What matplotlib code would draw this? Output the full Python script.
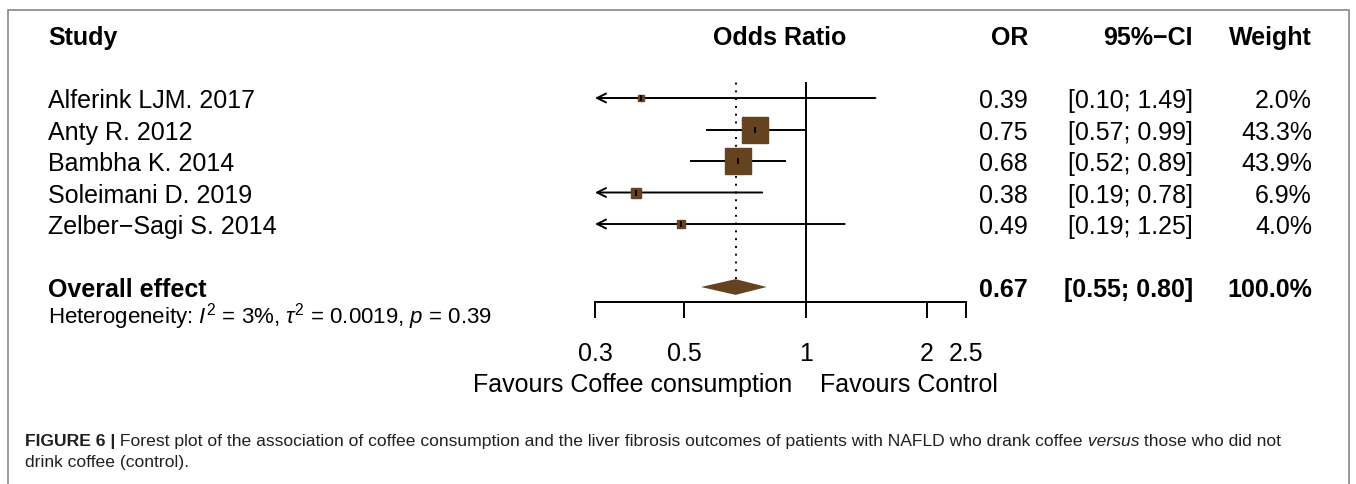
import numpy as np
import matplotlib
matplotlib.use("Agg")
import matplotlib.pyplot as plt
import matplotlib.transforms as mtransforms
from matplotlib.patches import Rectangle
from matplotlib.ticker import NullLocator

plt.rcParams['font.family'] = ['Liberation Sans', 'DejaVu Sans']
plt.rcParams['mathtext.fontset'] = 'custom'
plt.rcParams['mathtext.rm'] = 'Liberation Sans'
plt.rcParams['mathtext.it'] = 'Liberation Sans:italic'
plt.rcParams['mathtext.bf'] = 'Liberation Sans:bold'

# donnees du forest plot
studies = ["Alferink LJM. 2017", "Anty R. 2012", "Bambha K. 2014",
           "Soleimani D. 2019", "Zelber\u2212Sagi S. 2014"]
odds_ratio = [0.39, 0.75, 0.68, 0.38, 0.49]
ci_low = [0.10, 0.57, 0.52, 0.19, 0.19]
ci_high = [1.49, 0.99, 0.89, 0.78, 1.25]
weights = [2.0, 43.3, 43.9, 6.9, 4.0]

overall_or = 0.67
overall_low = 0.55
overall_high = 0.80
overall_weight = 100.0

ticks = [0.3, 0.5, 1, 2, 2.5]
tick_labels = ["0.3", "0.5", "1", "2", "2.5"]
headers = ["Study", "Odds Ratio", "OR", "95%\u2212CI", "Weight"]

W, H = 1356, 485
fig = plt.figure(figsize=(W / 100, H / 100), dpi=100)

brown = '#654321'
lw = 1.4
fs = 18

# axe principal (echelle log)
ax = fig.add_axes([595 / W, 1 - 303 / H, 371 / W, 220 / H])
ax.set_xscale('log')
ax.set_xlim(ticks[0], ticks[-1])
ax.set_ylim(-6.476, 0.508)
xmin = ax.get_xlim()[0]

for i in range(len(studies)):
    y = -i
    if ci_low[i] < xmin:
        ax.annotate('', xy=(xmin, y), xytext=(ci_high[i], y),
                    arrowprops=dict(arrowstyle='->', lw=lw, color='black',
                                    shrinkA=0, shrinkB=0, mutation_scale=16))
    else:
        ax.plot([ci_low[i], ci_high[i]], [y, y], color='black', lw=lw)
    ax.plot(odds_ratio[i], y, marker='s', ms=2.84 * np.sqrt(weights[i]),
            color=brown, mec=brown, mew=1, zorder=3)
    ax.plot(odds_ratio[i], y, marker='|', ms=5, color='black', mew=1.3, zorder=4)

# effet global
y_all = -6
h = 0.25
ax.fill([overall_low, overall_or, overall_high, overall_or],
        [y_all, y_all + h, y_all, y_all - h], color=brown, lw=0)
ax.vlines(overall_or, y_all + h, ax.get_ylim()[1], color='black', lw=1.4,
          linestyles=(0, (1, 3)))
ax.axvline(1, color='black', lw=lw)

for s in ['top', 'left', 'right']:
    ax.spines[s].set_visible(False)
ax.spines['bottom'].set_linewidth(lw)
ax.set_xticks(ticks, tick_labels)
ax.xaxis.set_minor_locator(NullLocator())
ax.set_yticks([])
ax.tick_params(axis='x', length=11.5, width=lw, direction='out', pad=16.5,
               labelsize=fs)

# textes du tableau
trans = mtransforms.blended_transform_factory(fig.transFigure, ax.transData)
off = 0.286
col_x = [48 / W, 780 / W, 1028 / W, 1193 / W, 1312 / W]
col_ha = ['left', 'center', 'right', 'right', 'right']
for x, ha, txt in zip(col_x, col_ha, headers):
    ax.text(x, 2 - off, txt, transform=trans, ha=ha, va='baseline',
            fontsize=fs, fontweight='bold')

for i in range(len(studies)):
    y = -i - off
    ax.text(col_x[0], y, studies[i], transform=trans, ha='left', va='baseline', fontsize=fs)
    ax.text(col_x[2], y, f"{odds_ratio[i]:.2f}", transform=trans, ha='right',
            va='baseline', fontsize=fs)
    ax.text(col_x[3], y, f"[{ci_low[i]:.2f}; {ci_high[i]:.2f}]", transform=trans,
            ha='right', va='baseline', fontsize=fs)
    ax.text(col_x[4], y, f"{weights[i]:.1f}%", transform=trans, ha='right',
            va='baseline', fontsize=fs)

y = y_all - off
ax.text(col_x[0], y, "Overall effect", transform=trans, ha='left', va='baseline',
        fontsize=fs, fontweight='bold')
ax.text(col_x[2], y, f"{overall_or:.2f}", transform=trans, ha='right', va='baseline',
        fontsize=fs, fontweight='bold')
ax.text(col_x[3], y, f"[{overall_low:.2f}; {overall_high:.2f}]", transform=trans,
        ha='right', va='baseline', fontsize=fs, fontweight='bold')
ax.text(col_x[4], y, f"{overall_weight:.1f}%", transform=trans, ha='right',
        va='baseline', fontsize=fs, fontweight='bold')
ax.text(col_x[0], -7.12, r"Heterogeneity: $I^2$ = 3%, $\tau^2$ = 0.0019, $p$ = 0.39",
        transform=trans, ha='left', va='baseline', fontsize=16)

# libelles "Favours"
trans2 = mtransforms.blended_transform_factory(ax.transData, fig.transFigure)
ax.annotate("Favours Coffee consumption", xy=(1, 1 - 392 / H), xycoords=trans2,
            xytext=(-10, 0), textcoords='offset points', ha='right', va='baseline',
            fontsize=fs, annotation_clip=False)
ax.annotate("Favours Control", xy=(1, 1 - 392 / H), xycoords=trans2,
            xytext=(10, 0), textcoords='offset points', ha='left', va='baseline',
            fontsize=fs, annotation_clip=False)

# cadre
fig.patches.append(Rectangle((8 / W, -0.2), 1341 / W, 1.2 - 11 / H,
                             transform=fig.transFigure, fill=False,
                             edgecolor='#888888', lw=1.2))

# legende de la figure
cfs = 12.6
ccol = '#231f20'
t1 = fig.text(25 / W, 1 - 446 / H, "FIGURE 6 |", fontsize=cfs, fontweight='bold',
              color=ccol, va='baseline')
t2 = ax.annotate(" Forest plot of the association of coffee consumption and the liver "
                 "fibrosis outcomes of patients with NAFLD who drank coffee",
                 xy=(1, 0), xycoords=t1, va='bottom', fontsize=cfs, color=ccol)
t3 = ax.annotate(" versus", xy=(1, 0), xycoords=t2, va='bottom', fontsize=cfs,
                 color=ccol, style='italic')
ax.annotate(" those who did not", xy=(1, 0), xycoords=t3, va='bottom',
            fontsize=cfs, color=ccol)
fig.text(25 / W, 1 - 467 / H, "drink coffee (control).", fontsize=cfs, color=ccol,
         va='baseline')

fig.savefig("out.png", dpi=100)
